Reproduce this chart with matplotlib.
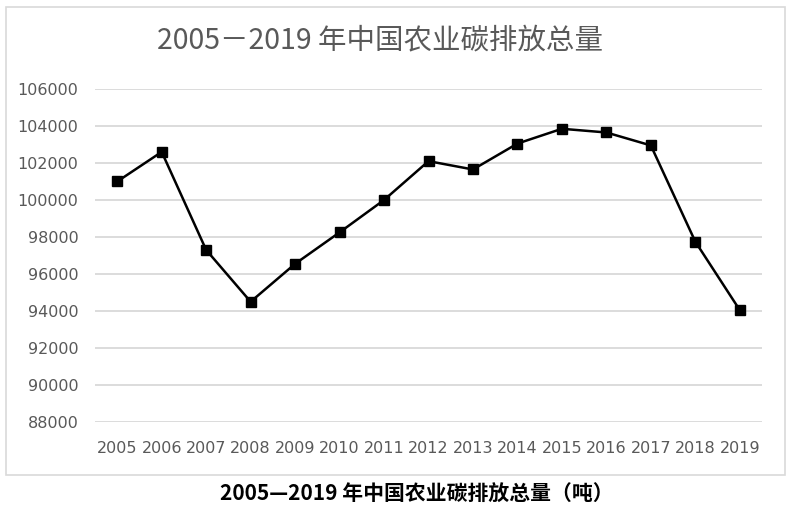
import matplotlib.pyplot as plt
from matplotlib.patches import Rectangle

years = ['2005', '2006', '2007', '2008', '2009', '2010', '2011', '2012',
         '2013', '2014', '2015', '2016', '2017', '2018', '2019']
emissions = [101000, 102600, 97300, 94500, 96550, 98250, 100000, 102100,
             101650, 103050, 103850, 103650, 102950, 97750, 94050]
yticks = [88000, 90000, 92000, 94000, 96000, 98000, 100000, 102000, 104000, 106000]

cjk = ['Noto Sans CJK SC', 'DejaVu Sans']

fig = plt.figure(figsize=(7.94, 5.11), dpi=100)
# outer chart border
fig.patches.append(Rectangle((6/794, 1-475/511), 779/794, 468/511, transform=fig.transFigure,
                             fill=False, edgecolor='#d9d9d9', linewidth=1.2))

ax = fig.add_axes([95/794, 1-422/511, 667/794, 333/511])
x = list(range(len(years)))
ax.plot(x, emissions, color='black', linewidth=1.8, marker='s', markersize=7)
ax.set_xlim(-0.5, len(years) - 0.5)
ax.set_ylim(88000, 106000)
ax.set_yticks(yticks)
ax.set_yticklabels([str(v) for v in yticks], fontsize=11.5, color='#595959')
ax.set_xticks(x)
ax.set_xticklabels(years, fontsize=11.5, color='#595959')
ax.tick_params(length=0)
ax.tick_params(axis='x', pad=14)
ax.tick_params(axis='y', pad=12)
ax.grid(axis='y', color='#d9d9d9', linewidth=1.3)
ax.set_axisbelow(True)
for s in ax.spines.values():
    s.set_visible(False)

fig.text(380/794, 1-40/511, '2005－2019 年中国农业碳排放总量', family=cjk, fontsize=20.5,
         color='#595959', ha='center', va='center')
fig.text(417/794, 1-494/511, '2005—2019 年中国农业碳排放总量（吨）', family=cjk, fontsize=15,
         fontweight='bold', color='black', ha='center', va='center')

fig.savefig('out.png', dpi=100)
